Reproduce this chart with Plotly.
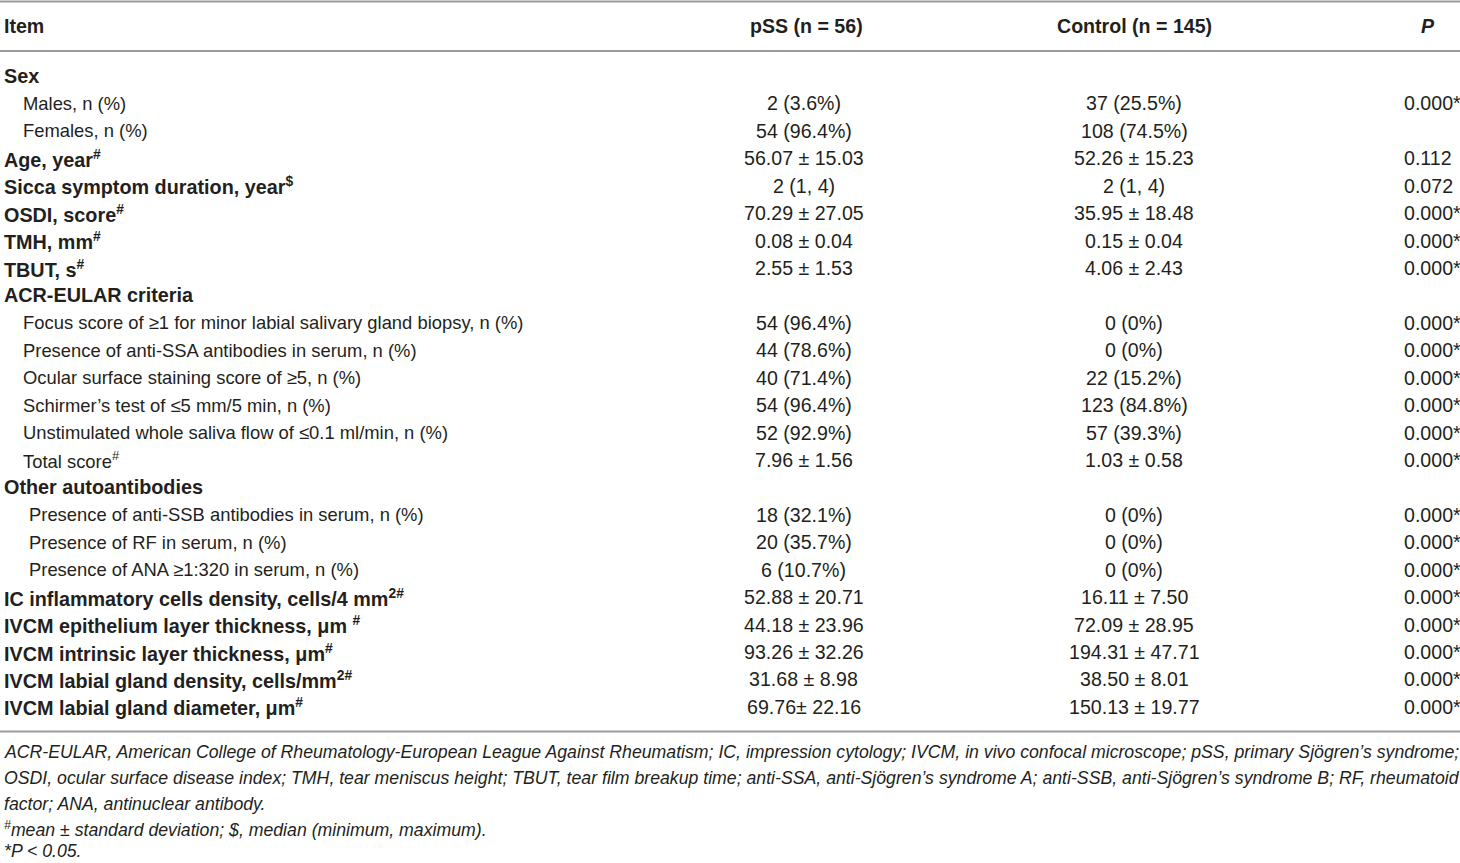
import plotly.graph_objects as go

# Table rows
items = [
    "Sex", "Males, n (%)", "Females, n (%)",
    "Age, year<sup>#</sup>", "Sicca symptom duration, year<sup>$</sup>",
    "OSDI, score<sup>#</sup>", "TMH, mm<sup>#</sup>", "TBUT, s<sup>#</sup>",
    "ACR-EULAR criteria",
    "Focus score of ≥1 for minor labial salivary gland biopsy, n (%)",
    "Presence of anti-SSA antibodies in serum, n (%)",
    "Ocular surface staining score of ≥5, n (%)",
    "Schirmer’s test of ≤5 mm/5 min, n (%)",
    "Unstimulated whole saliva flow of ≤0.1 ml/min, n (%)",
    "Total score<sup>#</sup>",
    "Other autoantibodies",
    "Presence of anti-SSB antibodies in serum, n (%)",
    "Presence of RF in serum, n (%)",
    "Presence of ANA ≥1:320 in serum, n (%)",
    "IC inflammatory cells density, cells/4 mm<sup>2#</sup>",
    "IVCM epithelium layer thickness, μm <sup>#</sup>",
    "IVCM intrinsic layer thickness, μm<sup>#</sup>",
    "IVCM labial gland density, cells/mm<sup>2#</sup>",
    "IVCM labial gland diameter, μm<sup>#</sup>",
]
# 0 = bold heading, 1 = sub item, 2 = sub item (deeper indent)
levels = [0, 1, 1, 0, 0, 0, 0, 0, 0, 1, 1, 1, 1, 1, 1, 0, 2, 2, 2, 0, 0, 0, 0, 0]

pss = [
    "", "2 (3.6%)", "54 (96.4%)", "56.07 ± 15.03", "2 (1, 4)", "70.29 ± 27.05",
    "0.08 ± 0.04", "2.55 ± 1.53", "", "54 (96.4%)", "44 (78.6%)", "40 (71.4%)",
    "54 (96.4%)", "52 (92.9%)", "7.96 ± 1.56", "", "18 (32.1%)", "20 (35.7%)",
    "6 (10.7%)", "52.88 ± 20.71", "44.18 ± 23.96", "93.26 ± 32.26",
    "31.68 ± 8.98", "69.76± 22.16",
]
control = [
    "", "37 (25.5%)", "108 (74.5%)", "52.26 ± 15.23", "2 (1, 4)", "35.95 ± 18.48",
    "0.15 ± 0.04", "4.06 ± 2.43", "", "0 (0%)", "0 (0%)", "22 (15.2%)",
    "123 (84.8%)", "57 (39.3%)", "1.03 ± 0.58", "", "0 (0%)", "0 (0%)", "0 (0%)",
    "16.11 ± 7.50", "72.09 ± 28.95", "194.31 ± 47.71", "38.50 ± 8.01",
    "150.13 ± 19.77",
]
p_values = [
    "", "0.000*", "", "0.112", "0.072", "0.000*", "0.000*", "0.000*", "",
    "0.000*", "0.000*", "0.000*", "0.000*", "0.000*", "0.000*", "", "0.000*",
    "0.000*", "0.000*", "0.000*", "0.000*", "0.000*", "0.000*", "0.000*",
]
headers = ["Item", "pSS (n = 56)", "Control (n = 145)", "<i>P</i>"]

footnotes = [
    "ACR-EULAR, American College of Rheumatology-European League Against Rheumatism; IC, impression cytology; IVCM, in vivo confocal microscope; pSS, primary Sjögren’s syndrome;",
    "OSDI, ocular surface disease index; TMH, tear meniscus height; TBUT, tear film breakup time; anti-SSA, anti-Sjögren’s syndrome A; anti-SSB, anti-Sjögren’s syndrome B; RF, rheumatoid",
    "factor; ANA, antinuclear antibody.",
    "<sup>#</sup>mean ± standard deviation; $, median (minimum, maximum).",
    "*P < 0.05.",
]

W, H = 1460, 863
FONT = "Liberation Sans, Arial, sans-serif"
INK = "#231f20"
LINE = "#9c9c9c"


def px(x):
    return x / W


def py(y):
    return 1 - y / H


fig = go.Figure()
ann = []


def add(text, x, y, anchor="left", bold=False, italic=False, size=18.4):
    if bold:
        text = "<b>" + text + "</b>"
    if italic:
        text = "<i>" + text + "</i>"
    ann.append(dict(text=text, x=px(x), y=py(y), xref="paper", yref="paper",
                    xanchor=anchor, yanchor="middle", showarrow=False,
                    font=dict(family=FONT, size=size, color=INK)))


# header
hy = 26
add(headers[0], 2, hy, bold=True, size=19.6)
add(headers[1], 806, hy, anchor="center", bold=True, size=19.6)
add(headers[2], 1134, hy, anchor="center", bold=True, size=19.6)
add(headers[3], 1437, hy, anchor="right", bold=True, size=19.6)

indent = {0: 2, 1: 21, 2: 27}
y0, step = 76, 27.43
for i, label in enumerate(items):
    y = y0 + i * step
    if levels[i] == 0:
        add(label, indent[0], y, bold=True, size=19.8)
    else:
        add(label, indent[levels[i]], y)
    if pss[i]:
        add(pss[i], 804, y, anchor="center", size=19.6)
    if control[i]:
        add(control[i], 1134, y, anchor="center", size=19.6)
    if p_values[i]:
        add(p_values[i], 1402, y, size=19.6)

fy = [752, 778, 804, 829, 851]
for t, y in zip(footnotes, fy):
    add(t, 2, y, italic=True, size=17.7)

for y in [1.5, 51, 731.5]:
    fig.add_shape(type="line", xref="paper", yref="paper",
                  x0=0, x1=1, y0=py(y), y1=py(y),
                  line=dict(color=LINE, width=1.8))

fig.update_layout(
    width=W, height=H,
    margin=dict(l=0, r=0, t=0, b=0),
    paper_bgcolor="white", plot_bgcolor="white",
    xaxis=dict(visible=False), yaxis=dict(visible=False),
    annotations=ann,
    showlegend=False,
)

fig.write_html(
    "out.html",
    config={"displayModeBar": False},
    post_script="document.body.style.margin='0';document.body.style.overflow='hidden';",
)
